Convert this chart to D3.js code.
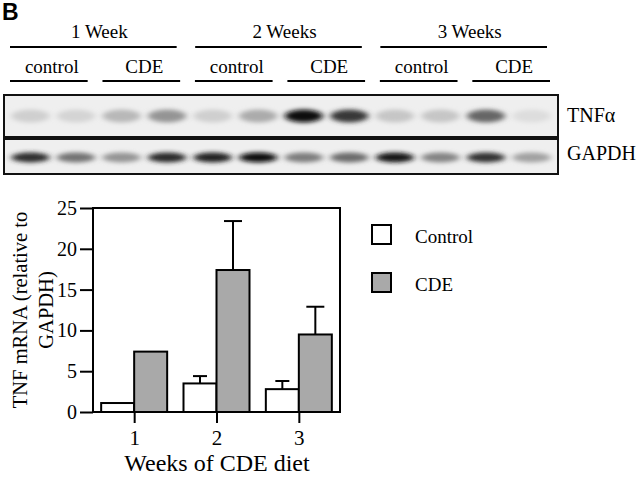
<!DOCTYPE html>
<html>
<head>
<meta charset="utf-8">
<script src="https://cdn.jsdelivr.net/npm/d3@7"></script>
<style>
  body { margin: 0; background: #fff; }
  svg { display: block; }
  text { font-family: "Liberation Serif", "Times New Roman", serif; fill: #000; }
</style>
</head>
<body>
<div id="chart"></div>
<script>
// blot header
var weekLabels = ["1 Week", "2 Weeks", "3 Weeks"];
var groupLabels = ["control", "CDE", "control", "CDE", "control", "CDE"];
var blotRows = ["TNF\u03b1", "GAPDH"];
// band darkness per lane, 0 = none, 1 = black
var tnfBands = [0.12, 0.10, 0.22, 0.38, 0.12, 0.28, 0.97, 0.78, 0.16, 0.16, 0.58, 0.06];
var gapdhBands = [0.82, 0.52, 0.38, 0.84, 0.88, 0.97, 0.48, 0.55, 0.93, 0.45, 0.80, 0.32];

// bar chart
var weeks = [1, 2, 3];
var seriesNames = ["Control", "CDE"];
var controlMean = [1.1, 3.5, 2.8];
var controlErr = [0, 0.9, 1.0];
var cdeMean = [7.4, 17.4, 9.5];
var cdeErr = [0, 6.0, 3.4];
var yTicks = [0, 5, 10, 15, 20, 25];

var W = 640, H = 477;
var svg = d3.select("#chart").append("svg").attr("width", W).attr("height", H);

var defs = svg.append("defs");
defs.append("filter").attr("id", "blur")
  .attr("x", "-30%").attr("y", "-60%").attr("width", "160%").attr("height", "220%")
  .append("feGaussianBlur").attr("stdDeviation", "3 2");

// panel letter
svg.append("text").attr("x", 2).attr("y", 20)
  .style("font-family", "'Liberation Sans', Arial, sans-serif")
  .style("font-weight", "bold").style("font-size", "23px").text("B");

// lanes
var lane = d3.scaleBand().domain(d3.range(12)).range([4, 558]).padding(0.16);
var shade = d3.scaleLinear().domain([0, 1]).range(["#ebebeb", "#050505"]);

// week headers
var weekX = d3.scaleBand().domain(d3.range(3)).range([10, 547]).paddingInner(0.1).paddingOuter(0);
var subX = d3.scaleBand().domain(d3.range(6)).range([10, 550]).paddingInner(0.16).paddingOuter(0);
var hdr = svg.append("g");
weekLabels.forEach(function(w, i) {
  hdr.append("text").attr("x", weekX(i) + weekX.bandwidth() / 2 + 6).attr("y", 38)
    .attr("text-anchor", "middle").style("font-size", "19px").text(w);
  hdr.append("line").attr("x1", weekX(i)).attr("x2", weekX(i) + weekX.bandwidth())
    .attr("y1", 47).attr("y2", 47).attr("stroke", "#000").attr("stroke-width", 2);
});
groupLabels.forEach(function(g, i) {
  hdr.append("text").attr("x", subX(i) + subX.bandwidth() / 2 + 3).attr("y", 73)
    .attr("text-anchor", "middle").style("font-size", "19px").text(g);
  hdr.append("line").attr("x1", subX(i)).attr("x2", subX(i) + subX.bandwidth())
    .attr("y1", 81).attr("y2", 81).attr("stroke", "#000").attr("stroke-width", 2);
});

// blot panels
var panels = [
  {name: blotRows[0], data: tnfBands, y: 95, h: 42, bh: 13, ty: 122},
  {name: blotRows[1], data: gapdhBands, y: 139, h: 35, bh: 10, ty: 160}
];
panels.forEach(function(p) {
  var g = svg.append("g");
  g.append("rect").attr("x", 4).attr("y", p.y).attr("width", 554).attr("height", p.h)
    .attr("fill", "#efefef");
  g.selectAll("ellipse").data(p.data).enter().append("ellipse")
    .attr("cx", function(d, i) { return lane(i) + lane.bandwidth() / 2; })
    .attr("cy", p.y + p.h / 2 + (p.h > 40 ? 0 : 1))
    .attr("rx", lane.bandwidth() / 2)
    .attr("ry", p.bh / 2)
    .attr("fill", function(d) { return shade(d); })
    .attr("filter", "url(#blur)");
  g.append("rect").attr("x", 4).attr("y", p.y).attr("width", 554).attr("height", p.h)
    .attr("fill", "none").attr("stroke", "#111").attr("stroke-width", 2);
  g.append("text").attr("x", 567).attr("y", p.ty)
    .style("font-size", "20px").text(p.name);
});

// bar chart
var x = d3.scaleLinear().domain([0.5, 3.5]).range([93, 340]);
var y = d3.scaleLinear().domain([0, 25]).range([412, 208]);
var bw = 33;

var plot = svg.append("g");

var yAxis = plot.append("g").attr("transform", "translate(93,0)")
  .call(d3.axisLeft(y).tickValues(yTicks).tickSize(13).tickPadding(3));
yAxis.select(".domain").remove();
yAxis.selectAll("line").attr("stroke-width", 2);
yAxis.selectAll("text").style("font-family", "'Liberation Serif', serif").style("font-size", "20px");

var xAxis = plot.append("g").attr("transform", "translate(0,412)")
  .call(d3.axisBottom(x).tickValues(weeks).tickSize(11).tickPadding(7).tickFormat(d3.format("d")));
xAxis.select(".domain").remove();
xAxis.selectAll("line").attr("stroke-width", 2);
xAxis.selectAll("text").style("font-family", "'Liberation Serif', serif").style("font-size", "21px");

var series = [
  {name: seriesNames[0], mean: controlMean, err: controlErr, off: -bw, fill: "#fff", cap: 14},
  {name: seriesNames[1], mean: cdeMean, err: cdeErr, off: 0, fill: "#a9a9a9", cap: 18}
];

series.forEach(function(s) {
  var g = plot.append("g");
  var withErr = weeks.filter(function(d, i) { return s.err[i] > 0; });
  g.selectAll("line.err").data(withErr).enter()
    .append("line").attr("class", "err")
    .attr("x1", function(d) { return x(d) + s.off + bw / 2; })
    .attr("x2", function(d) { return x(d) + s.off + bw / 2; })
    .attr("y1", function(d) { return y(s.mean[weeks.indexOf(d)]); })
    .attr("y2", function(d) { var i = weeks.indexOf(d); return y(s.mean[i] + s.err[i]); })
    .attr("stroke", "#000").attr("stroke-width", 2);
  g.selectAll("line.cap").data(withErr).enter()
    .append("line").attr("class", "cap")
    .attr("x1", function(d) { return x(d) + s.off + bw / 2 - s.cap / 2; })
    .attr("x2", function(d) { return x(d) + s.off + bw / 2 + s.cap / 2; })
    .attr("y1", function(d) { var i = weeks.indexOf(d); return y(s.mean[i] + s.err[i]); })
    .attr("y2", function(d) { var i = weeks.indexOf(d); return y(s.mean[i] + s.err[i]); })
    .attr("stroke", "#000").attr("stroke-width", 2);
  g.selectAll("rect").data(weeks).enter().append("rect")
    .attr("x", function(d) { return x(d) + s.off; })
    .attr("width", bw)
    .attr("y", function(d, i) { return y(s.mean[i]); })
    .attr("height", function(d, i) { return y(0) - y(s.mean[i]); })
    .attr("fill", s.fill).attr("stroke", "#000").attr("stroke-width", 2);
});

// frame
plot.append("rect").attr("x", 93).attr("y", 208).attr("width", 247).attr("height", 204)
  .attr("fill", "none").attr("stroke", "#000").attr("stroke-width", 2);

// axis titles
plot.append("text").attr("x", 217).attr("y", 471).attr("text-anchor", "middle")
  .style("font-size", "24px").text("Weeks of CDE diet");
var yt = plot.append("text").attr("transform", "translate(0,310) rotate(-90)")
  .attr("text-anchor", "middle").style("font-size", "20.5px");
yt.append("tspan").attr("x", 0).attr("y", 27).text("TNF mRNA (relative to");
yt.append("tspan").attr("x", 0).attr("y", 53).text("GAPDH)");

// legend
var leg = svg.append("g");
series.forEach(function(s, i) {
  leg.append("rect").attr("x", 372).attr("y", 225 + i * 48).attr("width", 19).attr("height", 19)
    .attr("fill", s.fill).attr("stroke", "#000").attr("stroke-width", 2);
  leg.append("text").attr("x", 415).attr("y", 243 + i * 48).style("font-size", "19px").text(s.name);
});
</script>
</body>
</html>
